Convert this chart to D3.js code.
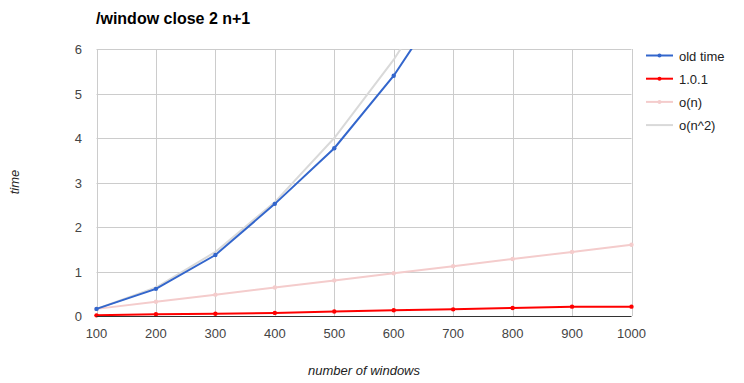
<!DOCTYPE html>
<html><head><meta charset="utf-8">
<script src="https://cdn.jsdelivr.net/npm/d3@7"></script>
<style>body{margin:0;background:#fff}svg{display:block;font-family:"Liberation Sans",Arial,sans-serif}</style>
</head><body><svg id="c" width="744" height="383"></svg>
<script>
const windows = [100,200,300,400,500,600,700,800,900,1000];
const oldTime = [0.16,0.61,1.37,2.52,3.77,5.40,7.41,9.6,12.2,15.1];
const v101 = [0.015,0.04,0.05,0.07,0.10,0.13,0.15,0.18,0.21,0.21];
const oN = [0.16,0.32,0.48,0.64,0.80,0.96,1.12,1.28,1.44,1.60];
const oN2 = [0.16,0.64,1.44,2.56,4.00,5.76,7.84,10.24,12.96,16.00];
const yTicks = [0,1,2,3,4,5,6];
const seriesNames = ["old time","1.0.1","o(n)","o(n^2)"];
const seriesColors = ["#3366cc","#ff0000","#f4cccc","#d9d9d9"];
const seriesDots = [true,true,true,false];
const seriesData = [oldTime,v101,oN,oN2];

const svg = d3.select("#c");
const L=96.5, R=631.5, T=49, B=316;
const x = d3.scaleLinear().domain([100,1000]).range([L,R]);
const y = d3.scaleLinear().domain([0,6]).range([B,T]);

// grid
svg.append("g").selectAll("line").data(windows).join("line")
  .attr("x1",d=>Math.round(x(d))+0.5).attr("x2",d=>Math.round(x(d))+0.5)
  .attr("y1",T).attr("y2",B).attr("stroke","#cccccc");
svg.append("g").selectAll("line").data(yTicks.filter(d=>d>0)).join("line")
  .attr("x1",L).attr("x2",R).attr("y1",d=>Math.round(y(d))+0.5).attr("y2",d=>Math.round(y(d))+0.5)
  .attr("stroke","#cccccc");

// y tick labels
svg.append("g").selectAll("text").data(yTicks).join("text")
  .attr("x",82).attr("y",d=>y(d)+5).attr("text-anchor","end")
  .attr("font-size",13).attr("fill","#444").text(d=>d);
// x tick labels
svg.append("g").selectAll("text").data(windows).join("text")
  .attr("x",d=>x(d)).attr("y",338).attr("text-anchor","middle")
  .attr("font-size",13).attr("fill","#444").text(d=>d);

svg.append("defs").append("clipPath").attr("id","clip").append("rect")
  .attr("x",L-4).attr("y",T).attr("width",R-L+8).attr("height",B-T+4);

const line = d3.line().x((d,i)=>x(windows[i])).y(d=>y(d));
const plot = svg.append("g").attr("clip-path","url(#clip)");
const order = [3,2,0,1];
order.forEach(k=>{
  plot.append("path").datum(seriesData[k]).attr("d",line)
    .attr("fill","none").attr("stroke",seriesColors[k]).attr("stroke-width",2);
  if(seriesDots[k]){
    plot.append("g").selectAll("circle").data(seriesData[k]).join("circle")
      .attr("cx",(d,i)=>x(windows[i])).attr("cy",d=>y(d)).attr("r",2.2)
      .attr("fill",seriesColors[k]);
  }
});

// baseline
svg.append("line").attr("x1",L).attr("x2",R).attr("y1",Math.round(y(0))+0.5).attr("y2",Math.round(y(0))+0.5)
  .attr("stroke","#333").attr("stroke-width",1);

// title
svg.append("text").attr("x",96).attr("y",24).attr("font-size",16).attr("font-weight","bold")
  .attr("fill","#000").text("/window close 2 n+1");
// axis titles
svg.append("text").attr("x",364).attr("y",375).attr("text-anchor","middle")
  .attr("font-size",13).attr("font-style","italic").attr("fill","#222").text("number of windows");
svg.append("text").attr("transform","translate(19,182) rotate(-90)").attr("text-anchor","middle")
  .attr("font-size",13).attr("font-style","italic").attr("fill","#222").text("time");

// legend
const lg = svg.append("g");
seriesNames.forEach((n,i)=>{
  const ly = 55.5 + i*23.2;
  lg.append("line").attr("x1",646).attr("x2",673).attr("y1",ly).attr("y2",ly)
    .attr("stroke",seriesColors[i]).attr("stroke-width",2);
  if(seriesDots[i]) lg.append("circle").attr("cx",659.5).attr("cy",ly).attr("r",2).attr("fill",seriesColors[i]);
  lg.append("text").attr("x",679).attr("y",ly+5).attr("font-size",13).attr("fill","#222").text(n);
});
</script></body></html>
